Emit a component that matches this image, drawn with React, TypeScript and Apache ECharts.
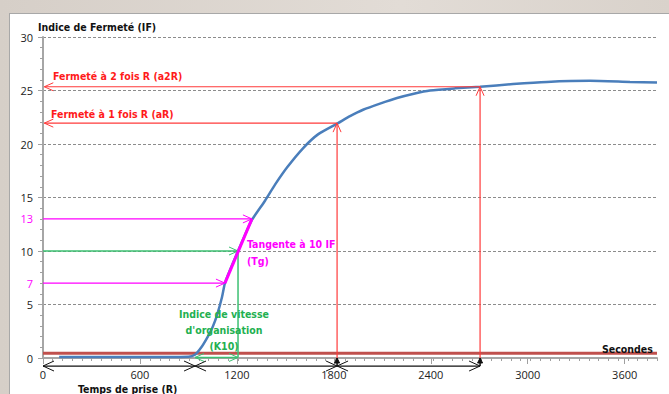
import React, { useEffect, useRef } from "react";
import * as echarts from "echarts";

// ---- data ----
const times = [100, 400, 700, 900, 940, 980, 1020, 1050, 1077, 1108, 1126, 1165, 1207, 1250, 1293, 1374, 1436, 1510, 1609, 1702, 1826, 1900, 1981, 2090, 2191, 2295, 2395, 2550, 2705, 2909, 3119, 3385, 3633, 3800];
const firmness = [0.1, 0.1, 0.1, 0.12, 0.3, 1.0, 2.0, 2.9, 4.0, 5.7, 7.0, 8.5, 10.0, 11.5, 12.9, 14.7, 16.2, 17.8, 19.6, 20.9, 21.95, 22.6, 23.2, 23.8, 24.3, 24.7, 25.0, 25.2, 25.35, 25.6, 25.8, 25.9, 25.8, 25.75];
const xTickLabels = [0, 600, 1200, 1800, 2400, 3000, 3600];
const yExtraLabels = [7, 13];
const redLevel = 0.45;
const tangentPoints = [[1126, 7], [1293, 13]];

// annotation segments: [x1, y1, x2, y2, headAtStart, headAtEnd]
const redArrows = [
  [2705, 25.35, 8, 25.35, 0, 1],
  [1820, 21.95, 8, 21.95, 0, 1],
  [1820, 0, 1820, 21.95, 0, 1],
  [2705, 0, 2705, 25.35, 0, 1],
];
const magentaArrows = [
  [0, 13, 1293, 13, 0, 1],
  [0, 7, 1126, 7, 0, 1],
];
const greenArrows = [
  [0, 10, 1207, 10, 0, 1],
  [1207, 10, 1207, 0.05, 0, 0],
  [941, 0.05, 1207, 0.05, 1, 1],
];
const blackArrows = [
  [0, -0.75, 941, -0.75, 1, 1],
  [941, -0.75, 1820, -0.75, 1, 1],
  [1820, -0.75, 2705, -0.75, 1, 1],
];
const blackMarkers = [
  [1820, -0.75, 1820, 0, 0, 1],
  [2705, -0.75, 2705, 0, 0, 1],
];

const FONT = "'DejaVu Sans Condensed', 'DejaVu Sans', sans-serif";
const AXIS_FONT = "'Open Sans', 'DejaVu Sans', sans-serif";

function arrowSeries(segs: number[][], color: string, width: number, headLen: number, headHalf: number, filled = false): any {
  return {
    type: "custom",
    silent: true,
    clip: false,
    z: 6,
    data: segs,
    encode: { x: [0, 2], y: [1, 3] },
    renderItem: (params: any, api: any) => {
      const p1 = api.coord([api.value(0), api.value(1)]);
      const p2 = api.coord([api.value(2), api.value(3)]);
      const children: any[] = [
        { type: "line", shape: { x1: p1[0], y1: p1[1], x2: p2[0], y2: p2[1] }, style: { stroke: color, lineWidth: width } },
      ];
      const head = (tip: number[], from: number[]) => {
        const dx = tip[0] - from[0];
        const dy = tip[1] - from[1];
        const len = Math.hypot(dx, dy) || 1;
        const ux = dx / len, uy = dy / len;
        const a = [tip[0] - ux * headLen - uy * headHalf, tip[1] - uy * headLen + ux * headHalf];
        const b = [tip[0] - ux * headLen + uy * headHalf, tip[1] - uy * headLen - ux * headHalf];
        if (filled) {
          return { type: "polygon", shape: { points: [a, tip, b] }, style: { fill: color, stroke: color, lineWidth: 1 } };
        }
        return { type: "polyline", shape: { points: [a, tip, b] }, style: { stroke: color, lineWidth: 1, fill: null } };
      };
      const seg = segs[params.dataIndex];
      if (seg[4]) children.push(head(p1, p2));
      if (seg[5]) children.push(head(p2, p1));
      return { type: "group", children };
    },
  };
}

export default function App() {
  const ref = useRef<HTMLDivElement>(null);
  useEffect(() => {
    if (!ref.current) return;
    const chart = echarts.init(ref.current, null, { renderer: "svg" });
    const curve = times.map((t, i) => [t, firmness[i]]);
    const txt = (text: string, x: number, y: number, color: string, align = "left", size = 10.5) => ({
      type: "text",
      x,
      y,
      z: 10,
      style: { text, fill: color, font: `bold ${size}px ${FONT}`, textAlign: align, textVerticalAlign: "middle" },
    });
    chart.setOption({
      animation: false,
      textStyle: { fontFamily: AXIS_FONT },
      grid: { left: 43, right: 12, top: 37, bottom: 36, containLabel: false },
      xAxis: [
        {
          type: "value",
          min: 0,
          max: 3800,
          interval: 600,
          axisLine: { onZero: false, lineStyle: { color: "#a6a6a6", width: 2 } },
          axisTick: { length: 6, lineStyle: { color: "#a0a0a0" } },
          axisLabel: {
            margin: 11,
            color: "#222",
            fontSize: 11,
            fontFamily: AXIS_FONT,
            showMaxLabel: false,
            formatter: (v: number) => (xTickLabels.includes(v) ? String(v) : ""),
          },
          splitLine: { show: false },
        },
        {
          type: "value",
          position: "bottom",
          min: 0,
          max: 3780,
          interval: 60,
          axisLine: { show: false, onZero: false },
          axisTick: { length: 3, lineStyle: { color: "#a0a0a0" } },
          axisLabel: { show: false },
          splitLine: { show: false },
        },
      ],
      yAxis: [
        {
          type: "value",
          min: 0,
          max: 30,
          interval: 5,
          axisLine: { show: true, lineStyle: { color: "#a6a6a6", width: 2 } },
          axisTick: { show: true, length: 5, lineStyle: { color: "#a0a0a0" } },
          axisLabel: { margin: 10, color: "#222", fontSize: 11, fontFamily: AXIS_FONT },
          splitLine: { show: true, lineStyle: { color: "#8c8c8c", type: [3, 2], width: 1 } },
        },
        {
          type: "value",
          position: "left",
          min: 0,
          max: 30,
          interval: 1,
          axisLine: { show: false },
          axisTick: { show: true, length: 3, lineStyle: { color: "#a0a0a0" } },
          axisLabel: {
            margin: 10,
            color: "#ff00ff",
            fontSize: 11,
            fontFamily: AXIS_FONT,
            formatter: (v: number) => (yExtraLabels.includes(v) ? String(v) : ""),
          },
          splitLine: { show: false },
        },
      ],
      series: [
        {
          type: "line",
          data: [[0, redLevel], [3800, redLevel]],
          showSymbol: false,
          silent: true,
          lineStyle: { color: "#c0504d", width: 3 },
          z: 3,
        },
        {
          type: "line",
          data: curve,
          showSymbol: false,
          silent: true,
          smooth: 0.2,
          lineStyle: { color: "#4a7ebb", width: 2.5 },
          z: 4,
        },
        {
          type: "line",
          data: tangentPoints,
          showSymbol: false,
          silent: true,
          lineStyle: { color: "#ff00ff", width: 3 },
          z: 7,
        },
        arrowSeries(redArrows, "#ff3a3a", 1.2, 9, 4),
        arrowSeries(magentaArrows, "#ff00ff", 1.2, 9, 4),
        arrowSeries(greenArrows, "#3cc072", 1.5, 9, 4),
        arrowSeries(blackArrows, "#111111", 1.2, 11, 5),
        arrowSeries(blackMarkers, "#111111", 1.5, 5, 2.5, true),
      ],
      graphic: [
        txt("Indice de Fermeté (IF)", 38, 27, "#111"),
        txt("Fermeté à 2 fois R (a2R)", 53, 76, "#ff1a1a"),
        txt("Fermeté à 1 fois R (aR)", 51, 114, "#ff1a1a"),
        txt("Tangente à 10 IF", 247, 244, "#ff00ff"),
        txt("(Tg)", 247, 261, "#ff00ff"),
        txt("Indice de vitesse", 224, 314, "#22b050", "center"),
        txt("d'organisation", 224, 330, "#22b050", "center"),
        txt("(K10)", 224, 346, "#22b050", "center"),
        txt("Temps de prise (R)", 78, 389, "#111"),
        txt("Secondes", 602, 349, "#111"),
      ],
    });
    return () => chart.dispose();
  }, []);
  return (
    <div style={{ position: "fixed", left: 0, top: 0, width: 669, height: 394, background: "linear-gradient(90deg, #d6cfc8 0%, #e2dcd6 60%, #d9d2cb 100%)", overflow: "hidden" }}>
      <div style={{ position: "absolute", left: 9, top: 13, width: 680, height: 400, background: "#fff", borderLeft: "1px solid #a8a8a8", borderTop: "1px solid #a8a8a8" }} />
      <div ref={ref} style={{ position: "absolute", left: 0, top: 0, width: 669, height: 394 }} />
    </div>
  );
}
